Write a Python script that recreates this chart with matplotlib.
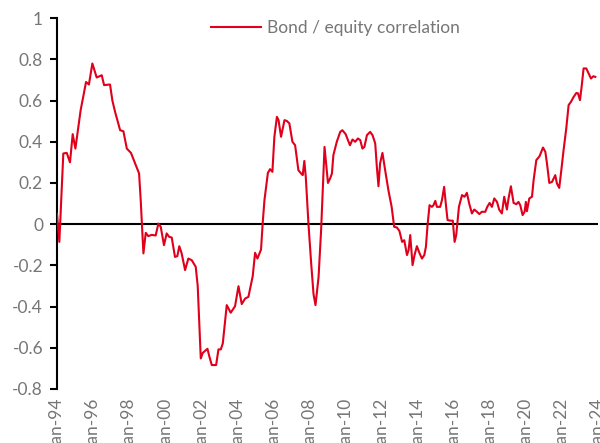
import matplotlib
matplotlib.use("Agg")
import matplotlib.pyplot as plt

plt.rcParams.update({
    "font.family": ["Lato", "DejaVu Sans"],
    "font.size": 12.5,
})

C_LINE = "#e0001b"
C_TEXT = "#767676"

# fractional year, value
years = [
    1994.00, 1994.13, 1994.35, 1994.54, 1994.72, 1994.87, 1995.02, 1995.31,
    1995.61, 1995.77, 1995.96, 1996.20, 1996.48, 1996.61, 1996.94, 1997.07,
    1997.22, 1997.50, 1997.68, 1997.87, 1998.10, 1998.33, 1998.55, 1998.64,
    1998.79, 1998.92, 1999.06, 1999.25, 1999.47, 1999.62, 1999.75, 1999.93,
    2000.08, 2000.21, 2000.36, 2000.54, 2000.67, 2000.78, 2000.91, 2001.10,
    2001.28, 2001.47, 2001.69, 2001.80, 2001.97, 2002.08, 2002.34, 2002.45,
    2002.58, 2002.82, 2002.95, 2003.08, 2003.19, 2003.41, 2003.63, 2003.87,
    2004.06, 2004.24, 2004.43, 2004.61, 2004.85, 2004.98, 2005.11, 2005.31,
    2005.40, 2005.50, 2005.69, 2005.81, 2005.94, 2006.05, 2006.19, 2006.28,
    2006.42, 2006.61, 2006.74, 2006.88, 2007.05, 2007.20, 2007.38, 2007.53,
    2007.62, 2007.71, 2007.79, 2007.94, 2008.09, 2008.22, 2008.33, 2008.50,
    2008.64, 2008.83, 2009.02, 2009.14, 2009.24, 2009.32, 2009.51, 2009.70,
    2009.82, 2010.00, 2010.24, 2010.38, 2010.53, 2010.68, 2010.81, 2010.93,
    2011.04, 2011.18, 2011.36, 2011.49, 2011.64, 2011.73, 2011.82, 2011.91,
    2012.04, 2012.19, 2012.37, 2012.55, 2012.69, 2012.84, 2012.98, 2013.13,
    2013.25, 2013.40, 2013.49, 2013.58, 2013.71, 2013.82, 2013.95, 2014.10,
    2014.23, 2014.36, 2014.45, 2014.54, 2014.65, 2014.78, 2014.87, 2014.97,
    2015.06, 2015.24, 2015.34, 2015.46, 2015.57, 2015.65, 2015.80, 2015.94,
    2016.04, 2016.13, 2016.28, 2016.45, 2016.59, 2016.72, 2016.85, 2017.00,
    2017.13, 2017.28, 2017.41, 2017.55, 2017.74, 2017.85, 2017.98, 2018.11,
    2018.24, 2018.39, 2018.51, 2018.66, 2018.79, 2018.94, 2019.03, 2019.16,
    2019.31, 2019.46, 2019.58, 2019.68, 2019.81, 2019.92, 2019.99, 2020.05,
    2020.18, 2020.33, 2020.42, 2020.57, 2020.75, 2020.94, 2021.07, 2021.16,
    2021.29, 2021.44, 2021.62, 2021.71, 2021.84, 2021.94, 2022.08, 2022.23,
    2022.36, 2022.49, 2022.64, 2022.79, 2022.88, 2022.99, 2023.08, 2023.19,
    2023.34, 2023.47, 2023.60, 2023.73, 2023.84,
]
corr = [
    0.05, -0.086, 0.343, 0.346, 0.30, 0.437, 0.367, 0.553,
    0.69, 0.678, 0.78, 0.712, 0.723, 0.675, 0.678, 0.60,
    0.545, 0.456, 0.451, 0.367, 0.346, 0.295, 0.246, 0.117,
    -0.142, -0.042, -0.058, -0.052, -0.055, 0.003, -0.013, -0.102,
    -0.045, -0.061, -0.065, -0.159, -0.155, -0.107, -0.142, -0.223,
    -0.167, -0.175, -0.207, -0.30, -0.652, -0.625, -0.605, -0.644,
    -0.684, -0.684, -0.608, -0.608, -0.579, -0.393, -0.43, -0.398,
    -0.301, -0.388, -0.361, -0.353, -0.252, -0.139, -0.167, -0.123,
    0.003, 0.117, 0.249, 0.267, 0.254, 0.424, 0.521, 0.505,
    0.424, 0.505, 0.501, 0.489, 0.40, 0.383, 0.262, 0.246,
    0.238, 0.307, 0.23, 0.0, -0.191, -0.34, -0.393, -0.256,
    -0.029, 0.375, 0.20, 0.222, 0.246, 0.335, 0.40, 0.448,
    0.456, 0.437, 0.383, 0.411, 0.40, 0.416, 0.408, 0.367,
    0.375, 0.432, 0.448, 0.432, 0.392, 0.278, 0.184, 0.295,
    0.346, 0.262, 0.165, 0.084, -0.013, -0.016, -0.033, -0.086,
    -0.078, -0.15, -0.126, -0.053, -0.199, -0.15, -0.107, -0.142,
    -0.167, -0.15, -0.11, -0.005, 0.092, 0.084, 0.092, 0.113,
    0.084, 0.084, 0.117, 0.181, 0.084, 0.02, 0.017, 0.017,
    -0.086, -0.053, 0.084, 0.141, 0.133, 0.152, 0.10, 0.052,
    0.071, 0.06, 0.049, 0.06, 0.06, 0.084, 0.103, 0.084,
    0.125, 0.108, 0.071, 0.052, 0.133, 0.071, 0.125, 0.184,
    0.103, 0.097, 0.108, 0.092, 0.044, 0.06, 0.108, 0.063,
    0.125, 0.133, 0.214, 0.311, 0.33, 0.372, 0.351, 0.295,
    0.20, 0.205, 0.238, 0.198, 0.176, 0.25, 0.359, 0.465,
    0.578, 0.594, 0.618, 0.637, 0.635, 0.602, 0.666, 0.756,
    0.756, 0.731, 0.707, 0.718, 0.715,
]

tick_years = list(range(1994, 2025, 2))
tick_labels = [f"Jan-{y % 100:02d}" for y in tick_years]

fig = plt.figure(figsize=(6, 4.43), dpi=100)
ax = fig.add_axes([0.095, 0.122, 0.902, 0.837])

ax.plot(years, corr, color=C_LINE, linewidth=1.5,
        label="Bond / equity correlation", zorder=3)
ax.axhline(0, color="black", linewidth=1.5, zorder=2)

ax.set_xlim(1994, 2024)
ax.set_ylim(-0.8, 1.0)
ax.set_yticks([-0.8, -0.6, -0.4, -0.2, 0, 0.2, 0.4, 0.6, 0.8, 1])
ax.set_yticklabels(["-0.8", "-0.6", "-0.4", "-0.2", "0", "0.2", "0.4",
                    "0.6", "0.8", "1"])
ax.set_xticks(tick_years)
ax.set_xticklabels(tick_labels, rotation=90)

for s in ["top", "right", "bottom"]:
    ax.spines[s].set_visible(False)
ax.spines["left"].set_linewidth(1.5)
ax.tick_params(axis="y", length=5, width=1.5, colors="black",
               labelcolor=C_TEXT, labelsize=12.5, pad=5)
ax.tick_params(axis="x", length=0, labelcolor=C_TEXT, labelsize=12.5, pad=6)

ax.legend(loc="center", bbox_to_anchor=(0.559, 0.937),
          bbox_transform=fig.transFigure, frameon=False, fontsize=12.5,
          handlelength=2.9, handletextpad=0.35, labelcolor=C_TEXT)

plt.savefig("out.png", dpi=100, facecolor="white")
plt.close()
